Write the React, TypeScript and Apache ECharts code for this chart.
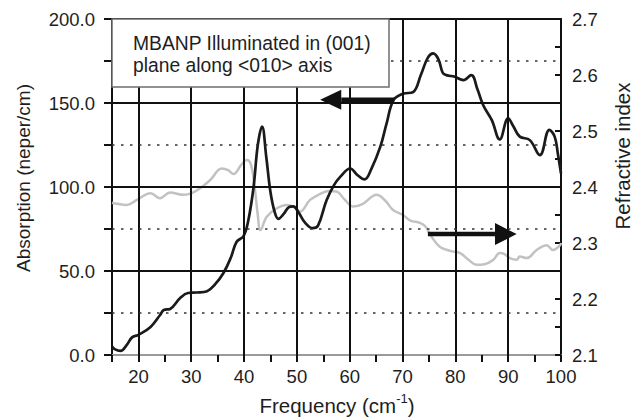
import React, { useEffect, useRef } from "react";
import * as echarts from "echarts";

// Absorption (left axis, neper/cm)
const absFreq = [15, 15.5, 16.6, 17.8, 18.8, 20, 22.3, 24.1, 24.8, 26, 27.9, 29.4, 31, 33, 34.5, 36.1, 37.5, 38.6, 39.9, 40.8, 41.8, 42.6, 43.4, 44.2, 45, 45.8, 46.5, 47.5, 48.5, 49.3, 50.3, 51.5, 53, 54, 55.6, 57, 58.2, 60.1, 61.5, 62.8, 64, 65.8, 67, 68.3, 70.1, 72, 73.5, 74.8, 75.8, 76.8, 77.6, 78.3, 79.9, 81.5, 83, 84.2, 85.3, 86.9, 88.4, 90, 91, 92.2, 94.1, 96, 97.8, 98.8, 99.4, 100];
const absorption = [5, 3.5, 2.4, 6, 10.5, 12, 16.7, 23.8, 26.8, 27.4, 33.9, 36.9, 37.2, 38, 42, 48.8, 58, 67.4, 70.8, 80, 100, 125, 136, 118, 97, 85, 81, 84, 88, 88.5, 85, 79, 75.5, 77, 92, 101, 106, 111, 107, 104.5, 110, 124, 138, 151.7, 155.5, 156.5, 167, 177, 179.5, 176, 168, 166.6, 165.6, 163.6, 166.6, 158, 148.5, 139.8, 128.3, 140.8, 136, 130, 127.9, 119, 134, 130, 120, 108];

// Refractive index (right axis)
const idxFreq = [15, 16, 17.8, 19.7, 22.3, 24.1, 26, 28.6, 30.1, 32, 33.6, 35.8, 37, 38, 39.5, 40.5, 41.3, 42, 42.6, 43.1, 44.3, 46.2, 48.1, 49.5, 50.6, 52.5, 54.5, 56, 57.5, 59, 60.7, 62.5, 65.1, 66.8, 68.2, 70.1, 71.5, 73.3, 74.3, 75.5, 77.1, 79, 80.9, 82.5, 84, 85.5, 87.2, 88.4, 89.3, 90.3, 91.6, 92.2, 93.5, 95.4, 97.3, 98.5, 99.8, 100];
const refIndex = [2.372, 2.37, 2.368, 2.377, 2.389, 2.38, 2.39, 2.386, 2.389, 2.4, 2.4125, 2.433, 2.43, 2.423, 2.44, 2.448, 2.44, 2.4, 2.35, 2.323, 2.347, 2.362, 2.368, 2.364, 2.356, 2.377, 2.388, 2.393, 2.392, 2.378, 2.365, 2.37, 2.386, 2.375, 2.359, 2.35, 2.34, 2.336, 2.33, 2.311, 2.293, 2.286, 2.282, 2.27, 2.261, 2.262, 2.27, 2.282, 2.28, 2.273, 2.27, 2.276, 2.273, 2.2875, 2.296, 2.2875, 2.296, 2.3];

// Grid lines
const vGridLines = [20, 30, 40, 50, 60, 70, 80, 90];
const hSolidLines = [50, 100, 150];
const hDottedLines = [25, 75, 125, 175];

// Annotation arrows (data coordinates: [frequency, value])
const leftArrow = { tail: [68.4, 152], base: [58.4, 152], tip: [54.4, 152], half: 10 };
const rightArrow = { tail: [74.8, 2.316], base: [87.5, 2.316], tip: [91.6, 2.316], half: 11 };

const legendLines = ["MBANP Illuminated in (001)", "plane along <010> axis"];

const FONT = "'Liberation Sans', Arial, Helvetica, sans-serif";
const FS = 18.5;
const TXT = "#1e1e1e";

export default function App() {
  const ref = useRef<HTMLDivElement>(null);
  useEffect(() => {
    if (!ref.current) return;
    const chart = echarts.init(ref.current, null, { renderer: "svg" });
    const black = absFreq.map((f, i) => [f, absorption[i]]);
    const gray = idxFreq.map((f, i) => [f, refIndex[i]]);
    const solid = { color: "#111", width: 2, type: "solid" as const };
    const dotted = { color: "#333", width: 1.5, type: [2.5, 6.5] as any };
    chart.setOption({
      animation: false,
      textStyle: { fontFamily: FONT },
      grid: { left: 112, right: 72, top: 19, bottom: 64, containLabel: false },
      xAxis: [
        {
          type: "value",
          min: 15,
          max: 100,
          interval: 5,
          axisLine: { show: true, lineStyle: { color: "#9a9a9a", width: 2 } },
          axisTick: { show: true, length: 7, lineStyle: { color: "#111", width: 2 } },
          splitLine: { show: false },
          axisLabel: {
            margin: 12,
            fontSize: FS,
            color: TXT,
            fontFamily: FONT,
            formatter: (v: number) => (v % 10 === 0 ? String(v) : ""),
          },
        },
        {
          type: "value",
          position: "top",
          min: 15,
          max: 100,
          axisLine: { show: true, onZero: false, lineStyle: { color: "#111", width: 2 } },
          axisTick: { show: false },
          axisLabel: { show: false },
          splitLine: { show: false },
        },
      ],
      yAxis: [
        {
          type: "value",
          position: "left",
          min: 0,
          max: 200,
          interval: 25,
          axisLine: { show: true, lineStyle: { color: "#111", width: 2 } },
          axisTick: { show: true, length: 8, lineStyle: { color: "#111", width: 2 } },
          splitLine: { show: false },
          axisLabel: {
            margin: 17,
            fontSize: FS,
            color: TXT,
            fontFamily: FONT,
            formatter: (v: number) => (v % 50 === 0 ? v.toFixed(1) : ""),
          },
        },
        {
          type: "value",
          position: "right",
          min: 2.1,
          max: 2.7,
          interval: 0.05,
          axisLine: { show: true, lineStyle: { color: "#111", width: 2 } },
          axisTick: { show: true, inside: true, length: 6, lineStyle: { color: "#111", width: 2 } },
          splitLine: { show: false },
          axisLabel: {
            margin: 11,
            fontSize: FS,
            color: TXT,
            fontFamily: FONT,
            formatter: (v: number) =>
              Math.abs(v * 10 - Math.round(v * 10)) < 1e-6 ? v.toFixed(1) : "",
          },
        },
      ],
      series: [
        {
          type: "line",
          xAxisIndex: 0,
          yAxisIndex: 0,
          data: black,
          smooth: 0.4,
          showSymbol: false,
          lineStyle: { color: "#1a1a1a", width: 2.7 },
          z: 4,
        },
        {
          type: "line",
          xAxisIndex: 0,
          yAxisIndex: 1,
          data: gray,
          smooth: 0.4,
          showSymbol: false,
          lineStyle: { color: "#c2c2c2", width: 2.5 },
          z: 3,
        },
        {
          type: "line",
          xAxisIndex: 0,
          yAxisIndex: 0,
          data: [],
          z: 1,
          markLine: {
            silent: true,
            symbol: ["none", "none"],
            label: { show: false },
            animation: false,
            data: [
              ...vGridLines.map((v) => ({ xAxis: v, lineStyle: solid })),
              ...hSolidLines.map((v) => ({ yAxis: v, lineStyle: solid })),
              ...hDottedLines.map((v) => ({ yAxis: v, lineStyle: dotted })),
            ],
          },
        },
      ],
    });

    const p = (s: number, pt: number[]) => chart.convertToPixel({ seriesIndex: s }, pt) as number[];
    const arrow = (s: number, a: { tail: number[]; base: number[]; tip: number[]; half: number }) => {
      const t = p(s, a.tail);
      const b = p(s, a.base);
      const tp = p(s, a.tip);
      return [
        {
          type: "line",
          shape: { x1: t[0], y1: t[1], x2: b[0], y2: b[1] },
          style: { stroke: "#111", lineWidth: 4.5 },
          z: 20,
        },
        {
          type: "polygon",
          shape: { points: [[tp[0], tp[1]], [b[0], b[1] - a.half], [b[0], b[1] + a.half]] },
          style: { fill: "#111" },
          z: 20,
        },
      ];
    };

    chart.setOption({
      graphic: [
        {
          type: "rect",
          shape: { x: 112, y: 19, width: 277, height: 68 },
          style: { fill: "#fff", stroke: "#6e6e6e", lineWidth: 1.5 },
          z: 30,
        },
        ...legendLines.map((t, i) => ({
          type: "text",
          x: 133,
          y: 43 + i * 22,
          z: 31,
          style: { text: t, fontSize: 19.3, fontFamily: FONT, fill: TXT, align: "left", verticalAlign: "middle" },
        })),
        ...arrow(0, leftArrow),
        ...arrow(1, rightArrow),
        {
          type: "text",
          x: 23,
          y: 178,
          rotation: Math.PI / 2,
          style: { text: "Absorption (neper/cm)", fontSize: 19, fontFamily: FONT, fill: TXT, align: "center", verticalAlign: "middle" },
        },
        {
          type: "text",
          x: 622,
          y: 156,
          rotation: Math.PI / 2,
          style: { text: "Refractive index", fontSize: 20.5, fontFamily: FONT, fill: TXT, align: "center", verticalAlign: "middle" },
        },
        {
          type: "text",
          x: 337,
          y: 405,
          style: {
            text: "Frequency (cm{s|-1})",
            fontSize: 20.5,
            fontFamily: FONT,
            fill: TXT,
            align: "center",
            verticalAlign: "middle",
            rich: {
              s: { fontSize: 13, fontFamily: FONT, fill: TXT, padding: [0, 0, 13, 0] },
            },
          },
        },
      ],
    });
    return () => chart.dispose();
  }, []);
  return (
    <div
      ref={ref}
      style={{ position: "fixed", left: 0, top: 0, width: 633, height: 419, background: "#fff" }}
    />
  );
}
